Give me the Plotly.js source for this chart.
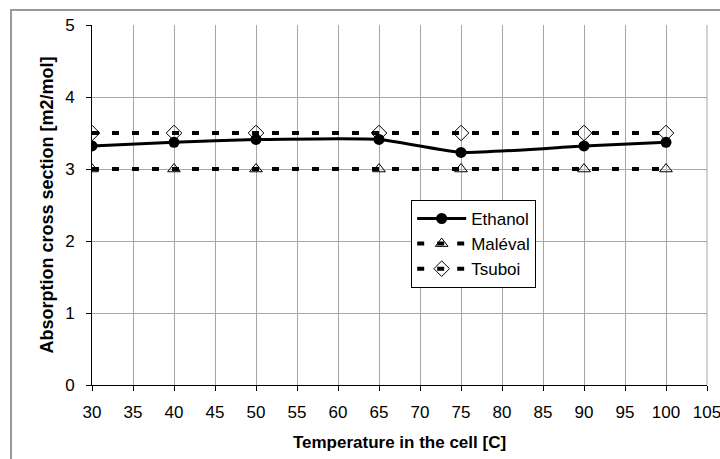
<!DOCTYPE html>
<html>
<head>
<meta charset="utf-8">
<script src="https://cdn.plot.ly/plotly-3.0.1.min.js"></script>
<style>html,body{margin:0;padding:0;background:#fff;}#chart{width:720px;height:459px;}</style>
</head>
<body>
<div id="chart"></div>
<script>
const temperatures = [30, 40, 50, 65, 75, 90, 100];
const ethanol = [3.32, 3.37, 3.41, 3.41, 3.23, 3.32, 3.37];
const maleval = [3.0, 3.0, 3.0, 3.0, 3.0, 3.0, 3.0];
const tsuboi = [3.5, 3.5, 3.5, 3.5, 3.5, 3.5, 3.5];
const xTicks = [30, 35, 40, 45, 50, 55, 60, 65, 70, 75, 80, 85, 90, 95, 100, 105];
const yTicks = [0, 1, 2, 3, 4, 5];

const font = 'Arial, "Liberation Sans", sans-serif';

const traces = [
  {
    x: temperatures, y: maleval, name: 'Maléval', mode: 'lines+markers',
    legendgroup: 'b', legendrank: 2,
    line: {color: '#000', width: 4, dash: '7px,13px'},
    marker: {symbol: 'triangle-up-open', size: 11, color: '#000', line: {width: 1, color: '#000'}}
  },
  {
    x: temperatures, y: tsuboi, name: 'Tsuboi', mode: 'lines+markers',
    legendgroup: 'c', legendrank: 3,
    line: {color: '#000', width: 4, dash: '7px,13px'},
    marker: {symbol: 'diamond-open', size: 12, color: '#000', line: {width: 1, color: '#000'}}
  },
  {
    x: temperatures, y: ethanol, name: 'Ethanol', mode: 'lines+markers',
    legendgroup: 'a', legendrank: 1,
    line: {color: '#000', width: 3, shape: 'spline', smoothing: 0.45},
    marker: {symbol: 'circle', size: 11, color: '#000'}
  }
];

const layout = {
  width: 720, height: 459,
  margin: {l: 92, r: 13, t: 25, b: 74},
  paper_bgcolor: '#fff', plot_bgcolor: '#fff',
  font: {family: font, color: '#000', size: 17},
  showlegend: true,
  legend: {
    x: 0.519, y: 0.514, xanchor: 'left', yanchor: 'top',
    bgcolor: '#fff', bordercolor: '#000', borderwidth: 1,
    font: {family: font, size: 17, color: '#000'},
    traceorder: 'grouped', tracegroupgap: 0, itemwidth: 49
  },
  xaxis: {
    range: [30, 105], tickvals: xTicks, ticktext: xTicks.map(String),
    showgrid: true, gridcolor: '#a6a6a6', gridwidth: 1,
    showline: true, linecolor: '#000', linewidth: 1,
    ticks: 'outside', ticklen: 5, tickcolor: '#000',
    ticklabelstandoff: 7, ticklabeloverflow: 'allow',
    zeroline: false,
    tickfont: {family: font, size: 17, color: '#000'},
    title: {text: 'Temperature in the cell [C]', font: {family: font, size: 17, color: '#000', weight: 'bold'}, standoff: 14}
  },
  yaxis: {
    range: [0, 5], tickvals: yTicks, ticktext: yTicks.map(String),
    showgrid: true, gridcolor: '#a6a6a6', gridwidth: 1,
    showline: true, linecolor: '#000', linewidth: 1,
    ticks: 'outside', ticklen: 5, tickcolor: '#000',
    ticklabelstandoff: 8,
    zeroline: false,
    tickfont: {family: font, size: 17, color: '#000'},
    title: {text: 'Absorption cross section [m2/mol]', font: {family: font, size: 18, color: '#000', weight: 'bold'}, standoff: 6}
  },
  shapes: [
    {type: 'line', xref: 'paper', yref: 'paper', x0: 1, x1: 1, y0: 0, y1: 1, line: {color: '#a6a6a6', width: 1}, layer: 'below'},
    {type: 'rect', xref: 'paper', yref: 'paper', x0: -0.1317, x1: 1.5, y0: -0.5, y1: 1.0417, line: {color: '#999', width: 2}, fillcolor: 'rgba(0,0,0,0)', layer: 'below'}
  ]
};

Plotly.newPlot('chart', traces, layout, {displayModeBar: false, staticPlot: true});
</script>
</body>
</html>
